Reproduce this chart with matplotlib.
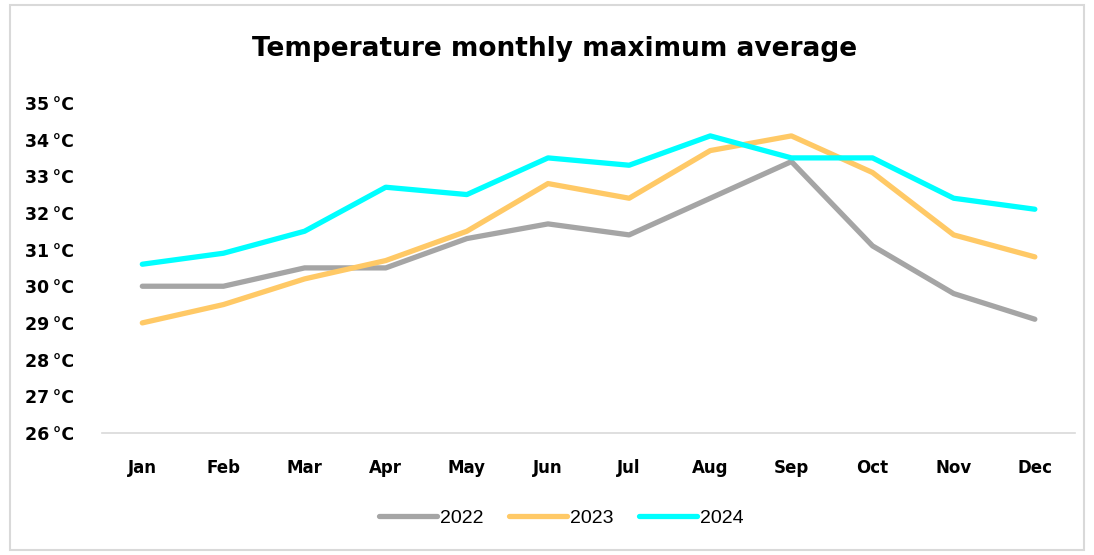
import matplotlib.pyplot as plt
from matplotlib.patches import Rectangle

months = ['Jan', 'Feb', 'Mar', 'Apr', 'May', 'Jun', 'Jul', 'Aug', 'Sep', 'Oct', 'Nov', 'Dec']
t2022 = [30.0, 30.0, 30.5, 30.5, 31.3, 31.7, 31.4, 32.4, 33.4, 31.1, 29.8, 29.1]
t2023 = [29.0, 29.5, 30.2, 30.7, 31.5, 32.8, 32.4, 33.7, 34.1, 33.1, 31.4, 30.8]
t2024 = [30.6, 30.9, 31.5, 32.7, 32.5, 33.5, 33.3, 34.1, 33.5, 33.5, 32.4, 32.1]
yticks = list(range(26, 36))

fig = plt.figure(figsize=(10.94, 5.55), dpi=100)
fig.patches.append(Rectangle((0.009, 0.009), 0.982, 0.982, transform=fig.transFigure,
                             fill=False, edgecolor='#D9D9D9', linewidth=1.5))
ax = fig.add_axes([0.093, 0.22, 0.89, 0.5946])

x = range(len(months))
ax.plot(x, t2022, color='#A5A5A5', lw=3.8, label='2022', solid_capstyle='round')
ax.plot(x, t2023, color='#FFC966', lw=3.8, label='2023', solid_capstyle='round')
ax.plot(x, t2024, color='#00FFFF', lw=3.8, label='2024', solid_capstyle='round')

ax.set_xlim(-0.5, 11.5)
ax.set_ylim(26, 35)
ax.set_xticks(list(x))
ax.set_xticklabels(months, fontsize=12, fontweight='bold')
ax.set_yticks(yticks)
ax.set_yticklabels([f'{v}\u2009°C' for v in yticks], fontsize=12.5, fontweight='bold')
ax.tick_params(length=0)
ax.tick_params(axis='x', pad=19)
ax.tick_params(axis='y', pad=20)
for s in ['top', 'right', 'left']:
    ax.spines[s].set_visible(False)
ax.spines['bottom'].set_color('#D9D9D9')
ax.spines['bottom'].set_linewidth(1.2)

fig.text(0.507, 0.912, 'Temperature monthly maximum average', ha='center', va='center',
         fontsize=19, fontweight='bold')
fig.legend(loc='center', bbox_to_anchor=(0.513, 0.067), ncol=3, frameon=False,
           prop={'family': 'Liberation Sans', 'size': 14},
           handlelength=3.0, handletextpad=0.15, columnspacing=1.3)

plt.savefig('out.png')
